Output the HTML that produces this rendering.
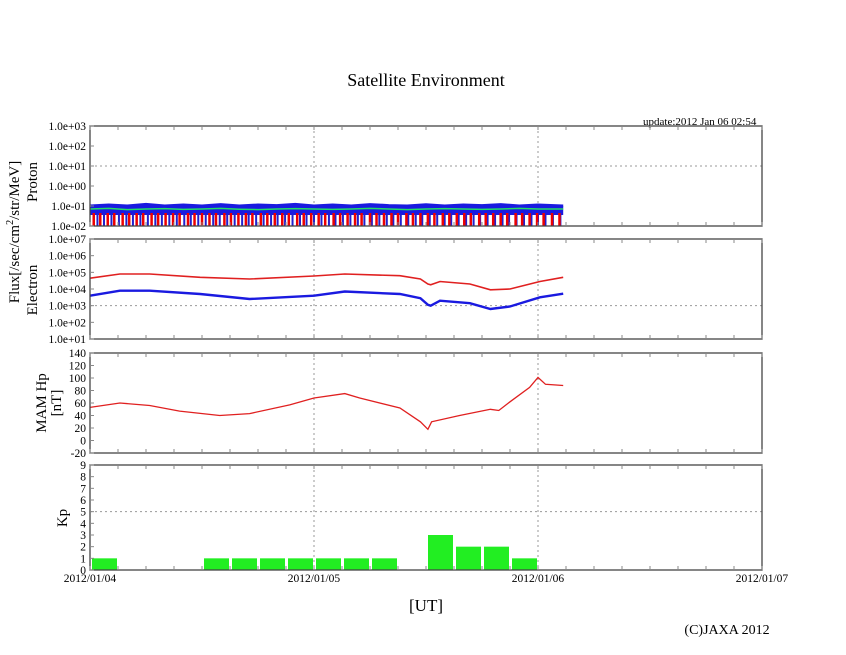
<!DOCTYPE html>
<html><head><meta charset="utf-8"><style>
body{margin:0;background:#fff;}
svg{display:block;font-family:"Liberation Serif",serif;}
</style></head><body>
<svg width="846" height="655" viewBox="0 0 846 655" id="chart">
<text x="426" y="86" font-size="18" text-anchor="middle">Satellite Environment</text>
<text x="643" y="125" font-size="11">update:2012 Jan 06 02:54</text>
<text x="426" y="611" font-size="17" text-anchor="middle">[UT]</text>
<text x="727" y="634" font-size="14" text-anchor="middle">(C)JAXA 2012</text>
<text transform="translate(19,232) rotate(-90)" font-size="15" text-anchor="middle">Flux[/sec/cm<tspan dy="-6" font-size="10">2</tspan><tspan dy="6">/str/MeV]</tspan></text>
<text transform="translate(37,182) rotate(-90)" font-size="15" text-anchor="middle">Proton</text>
<text transform="translate(37,290) rotate(-90)" font-size="15" text-anchor="middle">Electron</text>
<text transform="translate(46,403) rotate(-90)" font-size="15" text-anchor="middle">MAM Hp</text>
<text transform="translate(61,403) rotate(-90)" font-size="15" text-anchor="middle">[nT]</text>
<text transform="translate(67,518) rotate(-90)" font-size="15" text-anchor="middle">Kp</text>
<g id="g"></g>
</svg>
<script>
// shared x axis: hours since 2012/01/04 00:00
const xTickLabels=["2012/01/04","2012/01/05","2012/01/06","2012/01/07"];
const protonTicks=["1.0e-02","1.0e-01","1.0e+00","1.0e+01","1.0e+02","1.0e+03"];
const electronTicks=["1.0e+01","1.0e+02","1.0e+03","1.0e+04","1.0e+05","1.0e+06","1.0e+07"];
const mamTicks=[-20,0,20,40,60,80,100,120,140];
const kpTicks=[0,1,2,3,4,5,6,7,8,9];
// electron (log10 flux)
const eHours=[0,3.2,6.4,11.8,17.1,24,27.3,33.2,35.4,36.2,36.5,37.5,40.7,42.9,45,48.2,50.7];
const eRed=[4.65,4.9,4.9,4.7,4.6,4.78,4.9,4.8,4.6,4.3,4.25,4.45,4.3,3.95,4.0,4.45,4.7];
const eBlue=[3.6,3.9,3.9,3.7,3.4,3.6,3.85,3.7,3.45,3.05,3.0,3.3,3.15,2.8,2.95,3.5,3.72];
// MAM Hp (nT)
const mHours=[0,3.2,6.4,9.6,13.9,17.1,21.4,24,27.3,28.9,33.2,35.4,36.2,36.6,39.6,42.9,43.8,45,47.1,48,48.8,50.7];
const mVals=[53,60,56,47,40,43,57,68,75,68,52,30,18,30,40,50,48,62,85,101,90,88];
// proton (log10 flux)
const pHours=[0,2,4,6,8,10,12,14,16,18,20,22,24,26,28,30,32,34,36,38,40,42,44,46,48,50.7];
const pBlue=[-1.0,-0.95,-1.0,-0.92,-1.0,-0.95,-1.0,-0.93,-1.0,-0.95,-0.98,-0.92,-1.0,-0.95,-1.0,-0.93,-0.98,-1.0,-0.94,-1.0,-0.95,-0.98,-0.93,-1.0,-0.95,-1.0];
const pGreen=[-1.15,-1.12,-1.18,-1.15,-1.13,-1.17,-1.15,-1.12,-1.16,-1.18,-1.15,-1.13,-1.15,-1.17,-1.15,-1.12,-1.15,-1.18,-1.15,-1.13,-1.15,-1.17,-1.15,-1.12,-1.15,-1.15];
const pRedSpikes=[0.4,1.1,1.9,2.6,3.5,4.2,5.0,5.7,6.6,7.3,8.1,8.9,9.6,10.5,11.2,12.0,12.8,13.5,14.4,15.1,15.9,16.7,17.4,18.3,19.0,19.8,20.6,21.3,22.2,22.9,23.7,24.5,25.2,26.1,26.8,27.6,28.4,29.1,30.0,30.7,31.5,32.3,33.0,33.9,34.6,35.4,36.2,36.9,37.8,38.5,39.3,40.1,40.8,41.7,42.4,43.2,44.0,44.7,45.6,46.3,47.1,47.9,48.6,49.5,50.3];
const pBlueDips=[0.8,1.5,2.3,3.1,3.9,4.6,5.4,6.2,7.0,7.7,8.5,9.3,10.1,10.8,11.6,12.4,13.2,13.9,14.7,15.5,16.3,17.0,17.8,18.6,19.4,20.1,20.9,21.7,22.5,23.2,24.0,24.8,25.6,26.3,27.1,27.9,28.7,29.4,30.2,31.0,31.8,32.5,33.3,34.1,34.9,35.6,36.4,37.2,38.0,38.7,39.5,40.3,41.1,41.8,42.6,43.4,44.2,44.9,45.7,46.5,47.3,48.0,48.8,49.6,50.4];
// Kp (3-hour intervals from 2012/01/04 00:00; 0 = no bar)
const kpVals=[1,0,0,0,1,1,1,1,1,1,1,0,3,2,2,1];

const NS="http://www.w3.org/2000/svg";
const g=document.getElementById('g');
const X0=90,X1=762;
const xs=h=>X0+(X1-X0)*h/72;
function el(t,a,p){const e=document.createElementNS(NS,t);for(const k in a)e.setAttribute(k,a[k]);(p||g).appendChild(e);return e;}
const panels=[{y0:126,y1:226},{y0:239,y1:339},{y0:353,y1:453},{y0:465,y1:570}];
function lin(p,min,max){return v=>p.y1-(v-min)/(max-min)*(p.y1-p.y0);}
const yP=lin(panels[0],-2,3),yE=lin(panels[1],1,7),yM=lin(panels[2],-20,140),yK=lin(panels[3],0,9);
function line(hs,vs,yf,col,name,w){const pts=hs.map((h,i)=>xs(h).toFixed(1)+','+yf(vs[i]).toFixed(1)).join(' ');
 const e=el('polyline',{points:pts,fill:'none',stroke:col,'stroke-width':w||1.6});
 
 }
// grids
[24,48].forEach(h=>panels.forEach((p,i)=>{const e=el('line',{x1:xs(h),x2:xs(h),y1:p.y0,y2:p.y1,stroke:'#999','stroke-dasharray':'2,3'});
 
 }));
[[yP(1),0],[yE(3),1],[yK(5),3]].forEach(([y,i])=>{const e=el('line',{x1:X0,x2:X1,y1:y,y2:y,stroke:'#999','stroke-dasharray':'2,3'});
 
 });
// proton marks
{const e=el('rect',{x:X0,y:yP(-1.0),width:xs(50.7)-X0,height:yP(-1.45)-yP(-1.0),fill:'#1a1ae0'});
 
 }
pBlueDips.forEach(h=>{const e=el('line',{x1:xs(h),x2:xs(h),y1:yP(-1.4),y2:panels[0].y1,stroke:'#2020d0','stroke-width':2});
 
 });
pRedSpikes.forEach(h=>{const e=el('line',{x1:xs(h),x2:xs(h),y1:yP(-1.35),y2:panels[0].y1,stroke:'#e00','stroke-width':2.5});
 
 });
line(pHours,pBlue,yP,'#1a1ae0','proton-blue-line',3);
line(pHours,pGreen,yP,'#22dd66','proton-green-line',1.5);
// electron
line(eHours,eRed,yE,'#e02020','electron-red-line',1.6);
line(eHours,eBlue,yE,'#1a1ae0','electron-blue-line',2.4);
// MAM
line(mHours,mVals,yM,'#e02020','mam-hp-line',1.3);
// Kp bars
kpVals.forEach((v,i)=>{if(!v)return;const x=xs(i*3)+2,w=xs(3)-X0-3;
 const e=el('rect',{x:x,y:yK(v),width:w,height:yK(0)-yK(v),fill:'#22ee22'});
 
 });
// frames, ticks, labels
const tickSets=[[protonTicks,(t,i)=>yP(i-2)],[electronTicks,(t,i)=>yE(i+1)],[mamTicks,(t)=>yM(t)],[kpTicks,(t)=>yK(t)]];
panels.forEach((p,k)=>{
 const f=el('rect',{x:X0,y:p.y0,width:X1-X0,height:p.y1-p.y0,fill:'none',stroke:'#444','stroke-width':1.3});
 
 
 for(let h=0;h<=72;h+=3){el('line',{x1:xs(h),x2:xs(h),y1:p.y0,y2:p.y0+4,stroke:'#888'});el('line',{x1:xs(h),x2:xs(h),y1:p.y1,y2:p.y1-4,stroke:'#888'});}
 const [ticks,yf]=tickSets[k];
 ticks.forEach((t,i)=>{const y=yf(t,i);el('line',{x1:X0,x2:X0+4,y1:y,y2:y,stroke:'#888'});
  const tx=el('text',{x:86,y:y+4,'font-size':11.5,'text-anchor':'end'});tx.textContent=t;
  
  });
});
xTickLabels.forEach((t,i)=>{const tx=el('text',{x:xs(i*24),y:582,'font-size':11.5,'text-anchor':'middle'});tx.textContent=t;
 
 });
</script>
</body></html>
